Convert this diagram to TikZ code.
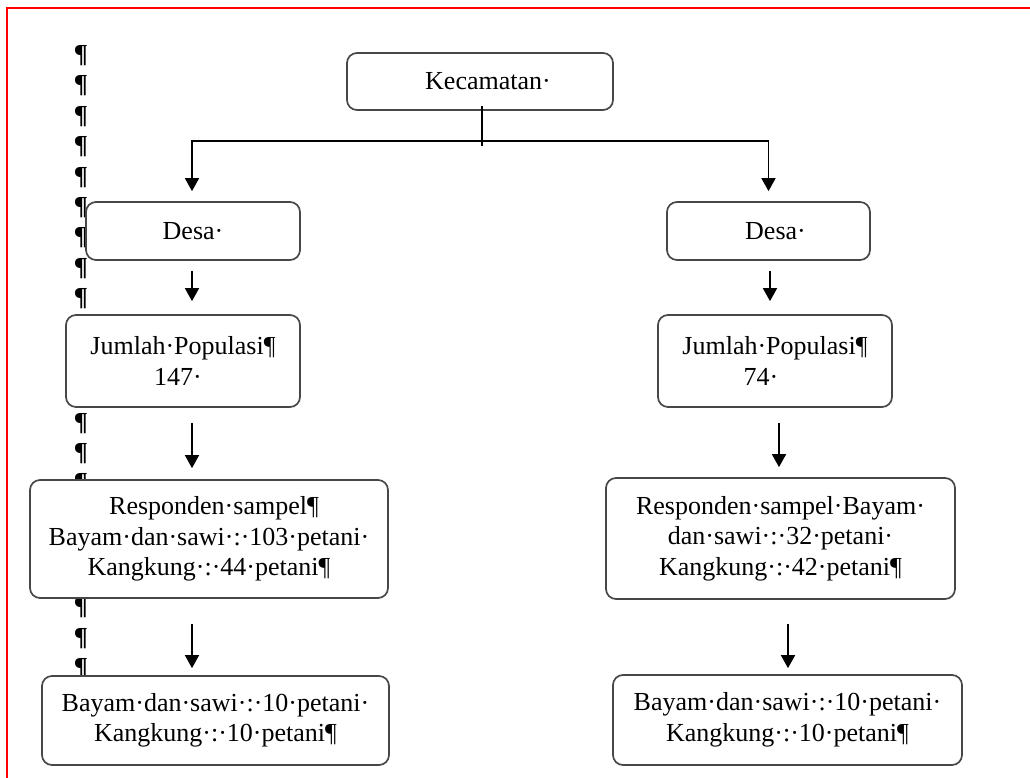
\documentclass[tikz,border=0pt]{standalone}
\usepackage{fontspec}
\setmainfont{Liberation Serif}
\usetikzlibrary{arrows.meta}
\tikzset{
  box/.style={draw=black!72, line width=1.7pt, rounded corners=10pt, fill=white,
    inner sep=0pt, align=center, font=\fontsize{26}{30.5}\selectfont},
  conn/.style={draw=black, line width=1.6pt},
  arr/.style={conn, -{Triangle[width=14pt,length=13pt]}},
  pil/.style={anchor=north, inner sep=0pt, font=\fontsize{26}{30}\selectfont\bfseries},
  frame/.style={draw=red, line width=2pt}
}
\begin{document}
\begin{tikzpicture}[x=1pt,y=-1pt]
\useasboundingbox (0,0) rectangle (1030,778);
% page frame
\coordinate (fTL) at (7,8);
\coordinate (fTR) at (1030,8);
\coordinate (fBL) at (7,778);
\draw[frame] (fTR) -- (fTL) -- (fBL);
% formatting marks
\foreach \i/\y in {1/45,2/75,3/106,4/136,5/167,6/197,7/227,8/258,9/288,10/413,11/443,12/473,13/597,14/628,15/658}{
  \node[pil] (p\i) at (81,\y) {¶};
}
% boxes
\node[box, minimum width=266pt, minimum height=57pt] (kec) at (480,81.5) {\hspace*{16pt}Kecamatan·};
\node[box, minimum width=214pt, minimum height=58pt] (desaL) at (193,231) {Desa·};
\node[box, minimum width=203pt, minimum height=58pt] (desaR) at (768.5,231) {\hspace*{14pt}Desa·};
\node[box, minimum width=234pt, minimum height=92pt] (jumL) at (183,361) {Jumlah·Populasi¶\\147·\hspace*{10pt}};
\node[box, minimum width=234pt, minimum height=92pt] (jumR) at (775,361) {Jumlah·Populasi¶\\74·\hspace*{28pt}};
\node[box, minimum width=358pt, minimum height=118pt] (resL) at (209,539) {\hspace*{10pt}Responden·sampel¶\\Bayam·dan·sawi·:·103·petani·\\Kangkung·:·44·petani¶};
\node[box, minimum width=349pt, minimum height=121pt] (resR) at (780.5,538.5) {Responden·sampel·Bayam·\\dan·sawi·:·32·petani·\\Kangkung·:·42·petani¶};
\node[box, minimum width=347pt, minimum height=89pt] (botL) at (215.5,720.5) {Bayam·dan·sawi·:·10·petani·\\Kangkung·:·10·petani¶};
\node[box, minimum width=349pt, minimum height=90pt] (botR) at (787.5,720) {Bayam·dan·sawi·:·10·petani·\\Kangkung·:·10·petani¶};
% connectors
\coordinate (hub) at (482,141);
\draw[conn] ([yshift=5pt]kec.south -| hub) -- ([yshift=-5pt]hub);
\draw[arr] (hub) -| ([xshift=-1pt,yshift=10pt]desaL.north);
\draw[arr] (hub) -| ([yshift=10pt]desaR.north);
\coordinate (lx) at (192,0);
\coordinate (rx1) at (770,0);
\coordinate (rx2) at (779,0);
\coordinate (rx3) at (788,0);
\draw[arr] ([yshift=-10pt]desaL.south -| lx) -- ([yshift=13pt]jumL.north -| lx);
\draw[arr] ([yshift=-15pt]jumL.south -| lx) -- ([yshift=11pt]resL.north -| lx);
\draw[arr] ([yshift=-25pt]resL.south -| lx) -- ([yshift=7pt]botL.north -| lx);
\draw[arr] ([yshift=-10pt]desaR.south -| rx1) -- ([yshift=13pt]jumR.north -| rx1);
\draw[arr] ([yshift=-15pt]jumR.south -| rx2) -- ([yshift=10pt]resR.north -| rx2);
\draw[arr] ([yshift=-24pt]resR.south -| rx3) -- ([yshift=6pt]botR.north -| rx3);
\end{tikzpicture}
\end{document}
